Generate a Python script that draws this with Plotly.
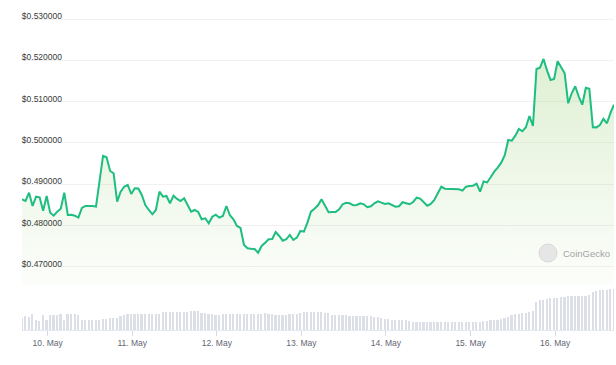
import pandas as pd
import plotly.graph_objects as go

# ---- data (XRP/USD, hourly) ----
start_time = "2024-05-09 16:43"

price = [
    0.48638, 0.48597, 0.48798, 0.48476, 0.48701, 0.48686, 0.48362, 0.48718, 0.48314, 0.48241,
    0.48338, 0.48411, 0.48798, 0.48258, 0.48265, 0.48241, 0.48193, 0.48428, 0.48476, 0.48483,
    0.48476, 0.48459, 0.49081, 0.49686, 0.49654, 0.49323, 0.49267, 0.48580, 0.48822, 0.48943,
    0.48984, 0.48766, 0.48904, 0.48898, 0.48742, 0.48500, 0.48379, 0.48275, 0.48379, 0.48822,
    0.48701, 0.48718, 0.48541, 0.48725, 0.48645, 0.48597, 0.48662, 0.48500, 0.48338, 0.48379,
    0.48331, 0.48154, 0.48178, 0.48057, 0.48217, 0.48265, 0.48193, 0.48234, 0.48476, 0.48251,
    0.48154, 0.47992, 0.47944, 0.47532, 0.47452, 0.47443, 0.47436, 0.47346, 0.47508, 0.47588,
    0.47670, 0.47677, 0.47847, 0.47750, 0.47636, 0.47670, 0.47774, 0.47653, 0.47709, 0.47871,
    0.47854, 0.48072, 0.48338, 0.48411, 0.48493, 0.48638, 0.48476, 0.48324, 0.48331, 0.48329,
    0.48396, 0.48517, 0.48556, 0.48541, 0.48493, 0.48500, 0.48541, 0.48517, 0.48445, 0.48469,
    0.48541, 0.48590, 0.48556, 0.48524, 0.48541, 0.48500, 0.48459, 0.48469, 0.48566, 0.48541,
    0.48517, 0.48573, 0.48677, 0.48653, 0.48566, 0.48483, 0.48524, 0.48621, 0.48783, 0.48943,
    0.48895, 0.48887, 0.48887, 0.48886, 0.48880, 0.48846, 0.48943, 0.48960, 0.48967, 0.49016,
    0.48822, 0.49069, 0.49045, 0.49170, 0.49306, 0.49403, 0.49524, 0.49703, 0.50073, 0.50056,
    0.50177, 0.50339, 0.50283, 0.50380, 0.50654, 0.50412, 0.51791, 0.51822, 0.52033, 0.51750,
    0.51525, 0.51549, 0.51977, 0.51832, 0.51687, 0.50961, 0.51203, 0.51372, 0.51121, 0.50927,
    0.51338, 0.51314, 0.50380, 0.50378, 0.50436, 0.50588, 0.50477, 0.50726, 0.50927,
]

volume = [
    1170, 1430, 1270, 1570, 1000, 930, 1500, 1000, 1530, 1530,
    1530, 1570, 1000, 1630, 1570, 1570, 1500, 1000, 1000, 1000,
    1000, 1000, 1000, 1100, 1130, 1170, 1200, 1230, 1400, 1530,
    1570, 1600, 1600, 1600, 1600, 1570, 1570, 1600, 1630, 1630,
    1770, 1770, 1770, 1770, 1770, 1830, 1830, 1800, 1900, 1900,
    1900, 1730, 1670, 1600, 1570, 1530, 1530, 1570, 1570, 1570,
    1570, 1570, 1570, 1570, 1570, 1570, 1600, 1600, 1600, 1670,
    1630, 1570, 1530, 1500, 1470, 1500, 1570, 1600, 1630, 1730,
    1770, 1770, 1770, 1800, 1830, 1800, 1730, 1670, 1530, 1500,
    1530, 1500, 1470, 1430, 1430, 1430, 1430, 1400, 1370, 1370,
    1330, 1330, 1170, 1070, 1070, 1030, 1000, 1000, 970, 970,
    900, 830, 830, 800, 830, 830, 830, 830, 800, 770,
    800, 830, 830, 800, 830, 830, 830, 800, 830, 830,
    830, 900, 930, 970, 1000, 1030, 1100, 1200, 1300, 1500,
    1570, 1630, 1670, 1730, 1800, 1870, 2830, 3000, 3030, 3100,
    3170, 3200, 3230, 3300, 3330, 3400, 3400, 3370, 3370, 3370,
    3400, 3470, 3770, 3930, 4000, 3970, 3970, 4100, 4070,
]

tick_dates = ["2024-05-10", "2024-05-11", "2024-05-12", "2024-05-13",
              "2024-05-14", "2024-05-15", "2024-05-16"]
tick_labels = ["10. May", "11. May", "12. May", "13. May",
               "14. May", "15. May", "16. May"]
price_ticks = [0.47, 0.48, 0.49, 0.50, 0.51, 0.52, 0.53]
price_tick_labels = ["$0.470000", "$0.480000", "$0.490000", "$0.500000",
                     "$0.510000", "$0.520000", "$0.530000"]

times = pd.date_range(start_time, periods=len(price), freq="h")

# ---- layout geometry (pixels of the 616x365 page) ----
W, H = 616, 365
ML, MR = 22, 2
px_per_unit = 4133.0
price_top_px, price_bot_px = 0, 285
vol_top_px, vol_bot_px = 285, 330
y_at_530 = 19
label_axis_px = 62

def py(px):
    return 1 - px / H

def px_x(px):
    return (px - ML) / (W - ML - MR)

price_max = 0.53 + (y_at_530 - price_top_px) / px_per_unit
price_min = price_max - (price_bot_px - price_top_px) / px_per_unit

fig = go.Figure()

fig.add_trace(go.Bar(
    x=times, y=volume, xaxis="x", yaxis="y2",
    marker=dict(color="#dcdfe5", line=dict(width=0)),
    width=1_750_000, hoverinfo="skip",
))

fig.add_trace(go.Scatter(
    x=times, y=price, xaxis="x", yaxis="y",
    mode="lines",
    line=dict(color="#1ebd80", width=2),
    fill="tozeroy",
    fillgradient=dict(
        type="vertical",
        start=price_min, stop=0.53,
        colorscale=[[0, "rgba(150,205,110,0.03)"], [1, "rgba(140,200,100,0.33)"]],
    ),
))

label_font = dict(family="Liberation Sans, Arial, sans-serif", size=8.5)

fig.update_layout(
    width=W, height=H,
    margin=dict(l=ML, r=MR, t=0, b=0, pad=0),
    paper_bgcolor="white", plot_bgcolor="white",
    showlegend=False,
    bargap=0,
    xaxis=dict(
        anchor="y2", domain=[0, 1],
        range=[times[0], times[-1]],
        tickmode="array",
        tickvals=tick_dates, ticktext=tick_labels,
        ticks="outside", ticklen=5, tickwidth=1, tickcolor="#d3d9e8",
        showline=True, linecolor="#e6e9f2", linewidth=1,
        showgrid=False, zeroline=False,
        tickfont=dict(color="#5f6673", **label_font),
    ),
    yaxis=dict(
        anchor="free", side="left", position=px_x(label_axis_px),
        domain=[py(price_bot_px), py(price_top_px)],
        range=[price_min, price_max],
        tickmode="array",
        tickvals=price_ticks, ticktext=price_tick_labels,
        ticklabelposition="outside top",
        ticklabelshift=3,
        showgrid=True, gridcolor="#f1f1f1", gridwidth=1,
        zeroline=False, showline=False, ticks="",
        tickfont=dict(color="#3a3a3a", **label_font),
    ),
    yaxis2=dict(
        domain=[py(vol_bot_px), py(vol_top_px)],
        range=[0, 4500],
        showgrid=False, zeroline=False, showline=False,
        showticklabels=False, ticks="",
    ),
)

# CoinGecko watermark
fig.add_shape(type="circle", xref="paper", yref="paper",
              x0=px_x(539), x1=px_x(557), y0=py(262), y1=py(244),
              fillcolor="#e6e6e6", line=dict(color="#d8d8d8", width=1), layer="above")
fig.add_annotation(xref="paper", yref="paper", x=px_x(561), y=py(253),
                   xanchor="left", yanchor="middle", showarrow=False,
                   text="CoinGecko",
                   font=dict(family="Liberation Sans, Arial, sans-serif", size=9.5, color="#a3a3a3"))

fig.write_html(
    "out.html",
    config={"displayModeBar": False},
    post_script="document.body.style.margin='0';document.body.style.overflow='hidden';",
)
